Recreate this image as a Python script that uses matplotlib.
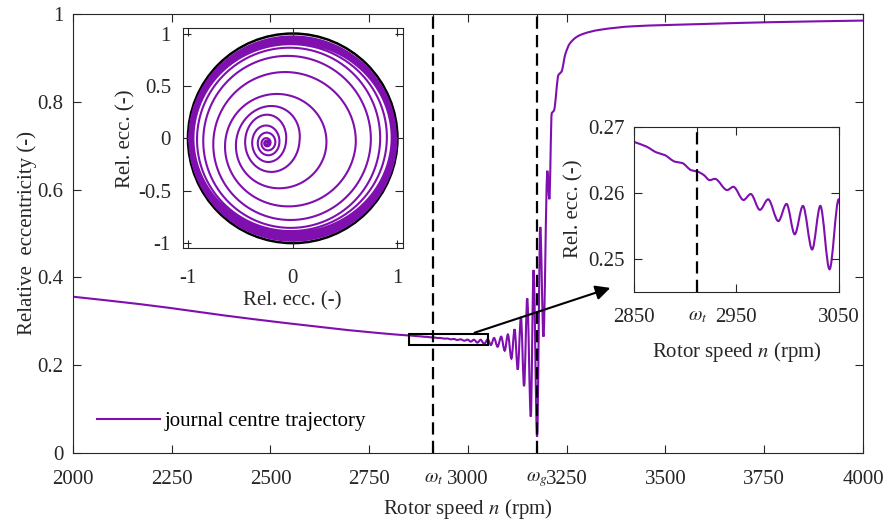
import numpy as np
import matplotlib.pyplot as plt
from matplotlib.patches import Rectangle, Circle, PathPatch
from matplotlib.path import Path
from matplotlib.lines import Line2D

plt.rcParams['font.family'] = ['Liberation Serif', 'DejaVu Serif']
plt.rcParams['mathtext.fontset'] = 'stix'
plt.rcParams['font.size'] = 15

purple = '#7f0fae'
grey = '#262626'

# rotor speed run-up: speed (rpm) vs relative eccentricity
speed = [2000, 2170, 2456, 2777, 2850, 2862, 2872, 2880, 2890, 2897, 2906, 2912,
         2918, 2924, 2929, 2941, 2947, 2957, 2964, 2973, 2981, 2991, 2999, 3007,
         3015, 3024, 3032, 3041, 3050, 3058, 3066, 3075, 3084, 3093, 3101, 3110,
         3118, 3126, 3134, 3142, 3150, 3159, 3166, 3175, 3183, 3191, 3201, 3206,
         3212, 3216, 3218, 3229, 3233, 3237, 3246, 3258, 3284, 3334, 3418, 3587,
         3750, 4000]
ecc = [0.356, 0.339, 0.305, 0.273, 0.2677, 0.2670, 0.2661, 0.2657, 0.2647, 0.2645,
       0.2634, 0.2632, 0.2627, 0.2619, 0.2621, 0.2604, 0.2609, 0.2589, 0.2598, 0.2574,
       0.2590, 0.2557, 0.2583, 0.2537, 0.2580, 0.2514, 0.2580, 0.2484, 0.2590, 0.246,
       0.262, 0.242, 0.265, 0.233, 0.270, 0.215, 0.282, 0.190, 0.310, 0.152,
       0.352, 0.083, 0.417, 0.037, 0.515, 0.265, 0.643, 0.578, 0.774, 0.778,
       0.781, 0.861, 0.865, 0.869, 0.907, 0.933, 0.952, 0.964, 0.972, 0.977,
       0.981, 0.985]

omega_t = 2912
omega_g = 3175

# journal orbit: extreme points of each turn (right, top, left, bottom)
loop_right = [-0.235, -0.225, -0.212, -0.166, -0.127, -0.063, 0.065, 0.320, 0.602,
              0.746, 0.835, 0.899, 0.945, 0.955, 0.965, 0.972, 0.978, 0.984, 0.99]
loop_top = [-0.035, -0.025, -0.012, 0.041, 0.094, 0.204, 0.289, 0.367, 0.588,
            0.764, 0.855, 0.895, 0.91, 0.925, 0.94, 0.95, 0.96, 0.97, 0.98]
loop_left = [-0.255, -0.265, -0.28, -0.316, -0.351, -0.422, -0.486, -0.598, -0.694,
             -0.822, -0.886, -0.941, -0.955, -0.962, -0.968, -0.974, -0.98, -0.985, -0.99]
loop_bottom = [-0.055, -0.065, -0.08, -0.126, -0.173, -0.243, -0.346, -0.519, -0.692,
               -0.808, -0.87, -0.89, -0.905, -0.92, -0.935, -0.948, -0.96, -0.97, -0.98]


def smooth_path(x, y):
    # monotone cubic Bezier through the points (no overshoot, round extrema)
    x = np.asarray(x, float)
    y = np.asarray(y, float)
    h = np.diff(x)
    d = np.diff(y) / h
    m = np.zeros_like(y)
    m[0], m[-1] = d[0], d[-1]
    for i in range(1, len(y) - 1):
        if d[i - 1] * d[i] > 0:
            w1 = 2 * h[i] + h[i - 1]
            w2 = h[i] + 2 * h[i - 1]
            m[i] = (w1 + w2) / (w1 / d[i - 1] + w2 / d[i])
    verts = [(x[0], y[0])]
    codes = [Path.MOVETO]
    for i in range(len(x) - 1):
        verts += [(x[i] + h[i] / 3, y[i] + m[i] * h[i] / 3),
                  (x[i + 1] - h[i] / 3, y[i + 1] - m[i + 1] * h[i] / 3),
                  (x[i + 1], y[i + 1])]
        codes += [Path.CURVE4] * 3
    return Path(verts, codes)


def orbit_path(right, top, left, bottom):
    # ellipse per turn from its extremes, blended turn to turn into a spiral
    r, t, l, b = (np.asarray(v, float) for v in (right, top, left, bottom))
    cx, cy = (r + l) / 2, (t + b) / 2
    ax_, ay_ = (r - l) / 2, (t - b) / 2
    turns = np.arange(len(r))
    k = np.linspace(0, len(r) - 1, 120 * (len(r) - 1))
    phi = 2 * np.pi * k
    xs = np.interp(k, turns, cx) + np.interp(k, turns, ax_) * np.cos(phi)
    ys = np.interp(k, turns, cy) + np.interp(k, turns, ay_) * np.sin(phi)
    return xs, ys


def style(a, xpad=12, ypad=7):
    a.tick_params(direction='in', top=True, right=True, length=6, width=0.8,
                  color=grey, labelcolor=grey)
    a.tick_params(axis='x', pad=xpad)
    a.tick_params(axis='y', pad=ypad)
    for s in a.spines.values():
        s.set_color(grey)
        s.set_linewidth(0.8)


def omega_labels(a):
    for lab in a.get_xticklabels():
        if 'omega' in lab.get_text():
            lab.set_fontsize(14)


dash = (0, (5.5, 2.8))
curve = smooth_path(speed, ecc)

fig = plt.figure(figsize=(8.87, 5.24), dpi=100)

# main run-up curve
ax = fig.add_axes([0.0823, 0.1355, 0.8906, 0.8378])
ax.add_patch(PathPatch(curve, fill=False, ec=purple, lw=1.5, capstyle='round'))
ax.axvline(omega_t, color='k', ls=dash, lw=1.6)
ax.axvline(omega_g, color='k', ls=dash, lw=1.6)
ax.add_patch(Rectangle((2850, 0.245), 200, 0.025, fill=False, ec='k', lw=1.5, zorder=3))
ax.annotate('', xy=(3367, 0.378), xytext=(3010, 0.272),
            arrowprops=dict(arrowstyle='-|>', color='k', lw=1.5, mutation_scale=22))
ax.set_xlim(2000, 4000)
ax.set_ylim(0, 1)
xt = [2000, 2250, 2500, 2750, omega_t, 3000, omega_g, 3250, 3500, 3750, 4000]
xl = ['2000', '2250', '2500', '2750', r'$\omega_t$', '3000', r'$\omega_g$',
      '3250', '3500', '3750', '4000']
ax.set_xticks(xt)
ax.set_xticklabels(xl)
ax.set_yticks([0, 0.2, 0.4, 0.6, 0.8, 1])
ax.set_yticklabels(['0', '0.2', '0.4', '0.6', '0.8', '1'])
ax.set_xlabel(r'Rotor speed $n$ (rpm)', color=grey, labelpad=6)
ax.set_ylabel('Relative  eccentricity (-)', color=grey, labelpad=0)
style(ax, xpad=12)
omega_labels(ax)
ax.legend(handles=[Line2D([], [], color=purple, lw=1.5)],
          labels=['journal centre trajectory'],
          loc='lower left', bbox_to_anchor=(0.02, 0.03), frameon=False,
          handlelength=3.0, handletextpad=0.25, borderaxespad=0)

# orbit inset
ax1 = fig.add_axes([0.206, 0.526, 0.248, 0.42])
ox, oy = orbit_path(loop_right, loop_top, loop_left, loop_bottom)
ax1.plot(ox, oy, color=purple, lw=1.5)
ax1.add_patch(Circle((0, 0), 1, fill=False, ec='k', lw=1.8))
ax1.set_xlim(-1.05, 1.05)
ax1.set_ylim(-1.05, 1.05)
ax1.set_xticks([-1, 0, 1])
ax1.set_xticklabels(['-1', '0', '1'])
ax1.set_yticks([-1, -0.5, 0, 0.5, 1])
ax1.set_yticklabels(['-1', '-0.5', '0', '0.5', '1'])
ax1.set_xlabel('Rel. ecc. (-)', color=grey, labelpad=2)
ax1.set_ylabel('Rel. ecc. (-)', color=grey, labelpad=2)
style(ax1, xpad=15, ypad=8.5)

# zoom on the onset of instability
ax2 = fig.add_axes([0.7148, 0.4433, 0.2308, 0.3149])
ax2.add_patch(PathPatch(curve, fill=False, ec=purple, lw=1.5))
ax2.axvline(omega_t, color='k', ls=dash, lw=1.6)
ax2.set_xlim(2850, 3050)
ax2.set_ylim(0.245, 0.27)
ax2.set_xticks([2850, omega_t, 2950, 3050])
ax2.set_xticklabels(['2850', r'$\omega_t$', '2950', '3050'])
ax2.set_yticks([0.25, 0.26, 0.27])
ax2.set_yticklabels(['0.25', '0.26', '0.27'])
ax2.set_xlabel(r'Rotor speed $n$ (rpm)', color=grey, labelpad=9)
ax2.set_ylabel('Rel. ecc. (-)', color=grey, labelpad=3)
style(ax2, xpad=12)
omega_labels(ax2)

fig.savefig('out.png', dpi=100)
